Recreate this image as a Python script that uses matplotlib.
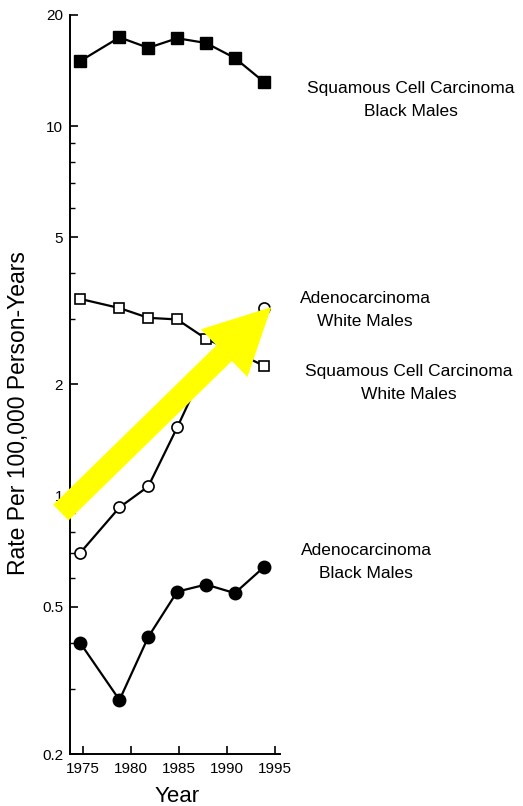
import matplotlib
matplotlib.use("Agg")
import matplotlib.pyplot as plt
from matplotlib.ticker import FixedLocator, NullFormatter

plt.rcParams['font.family'] = ['Liberation Sans', 'DejaVu Sans']

# period midpoints
years = [1974.7, 1978.8, 1981.8, 1984.8, 1987.8, 1990.8, 1993.8]

squamous_black = [15.0, 17.4, 16.3, 17.3, 16.8, 15.3, 13.2]
squamous_white = [3.41, 3.22, 3.03, 3.00, 2.66, 2.45, 2.25]
adeno_white = [0.70, 0.93, 1.06, 1.53, 2.25, 2.75, 3.22]
adeno_black = [0.40, 0.28, 0.415, 0.55, 0.575, 0.545, 0.64]

y_major = [0.2, 0.5, 1, 2, 5, 10, 20]
y_major_labels = ['0.2', '0.5', '1', '2', '5', '10', '20']
y_minor = [0.3, 0.4, 0.6, 0.7, 0.8, 0.9, 3, 4, 6, 7, 8, 9]
x_ticks = [1975, 1980, 1985, 1990, 1995]

fig = plt.figure(figsize=(5.23, 8.06), dpi=100)
ax = fig.add_axes([70 / 523, 1 - 754 / 806, 210 / 523, 739 / 806])

ax.plot(years, squamous_black, color='black', lw=1.6, marker='s', ms=8.5,
        mfc='black', mec='black', clip_on=False, zorder=3)
ax.plot(years, squamous_white, color='black', lw=1.6, marker='s', ms=7.5,
        mfc='white', mec='black', mew=1.2, clip_on=False, zorder=3)
ax.plot(years, adeno_white, color='black', lw=1.6, marker='o', ms=8,
        mfc='white', mec='black', mew=1.2, clip_on=False, zorder=3)
ax.plot(years, adeno_black, color='black', lw=1.6, marker='o', ms=9,
        mfc='black', mec='black', clip_on=False, zorder=3)

ax.set_yscale('log')
ax.set_ylim(0.2, 20)
ax.set_xlim(1973.65, 1995.5)

ax.yaxis.set_major_locator(FixedLocator(y_major))
ax.set_yticklabels(y_major_labels)
ax.yaxis.set_minor_locator(FixedLocator(y_minor))
ax.yaxis.set_minor_formatter(NullFormatter())
ax.set_xticks(x_ticks)

for s in ['top', 'right']:
    ax.spines[s].set_visible(False)
for s in ['left', 'bottom']:
    ax.spines[s].set_linewidth(1.4)

ax.tick_params(axis='both', which='major', direction='in', length=6, width=1.2,
               labelsize=11, colors='black')
ax.tick_params(axis='y', which='major', pad=5)
ax.tick_params(axis='x', which='major', pad=6)
ax.tick_params(axis='y', which='minor', direction='in', length=3.5, width=1.0)

ax.set_xlabel('Year', fontsize=16)
ax.xaxis.set_label_coords(0.51, -0.058)
ax.xaxis.label.set_va('center')
ax.set_ylabel('Rate Per 100,000 Person-Years', fontsize=16.5)
ax.yaxis.set_label_coords(-0.243, 0.461)
ax.yaxis.label.set_va('center')

# series labels at the right
labels = [
    ('Squamous Cell Carcinoma\nBlack Males', 411, 100),
    ('Adenocarcinoma\nWhite Males', 365, 310),
    ('Squamous Cell Carcinoma\nWhite Males', 409, 383),
    ('Adenocarcinoma\nBlack Males', 366, 562),
]
for txt, px, py in labels:
    fig.text(px / 523, 1 - py / 806, txt, ha='center', va='center',
             multialignment='center', fontsize=12.5, linespacing=1.6)

# big yellow arrow
ax.annotate('', xy=(1994.6, 3.24), xytext=(1972.7, 0.90),
            xycoords='data', textcoords='data', annotation_clip=False,
            arrowprops=dict(arrowstyle='simple,head_length=4.75,head_width=4.8,tail_width=1.58',
                            mutation_scale=10, fc='#ffff00', ec='none',
                            shrinkA=0, shrinkB=0),
            zorder=5)

fig.savefig('out.png', dpi=100)
